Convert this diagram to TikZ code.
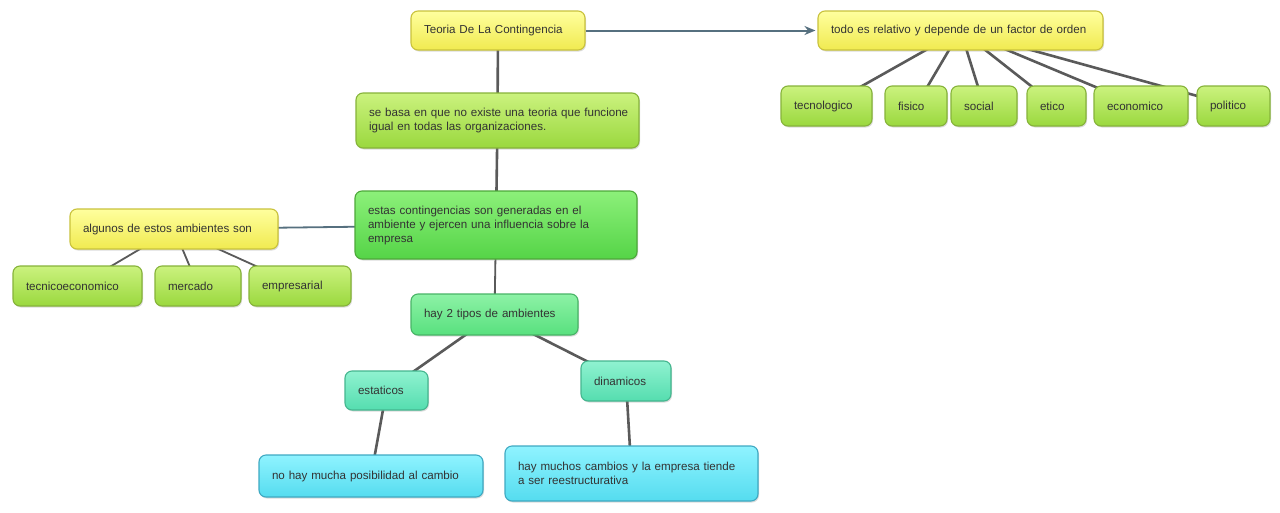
\documentclass[tikz,border=0pt]{standalone}
\usepackage{fontspec}
\setmainfont{Liberation Sans}
\usetikzlibrary{shadows,arrows.meta,backgrounds}
\pgfdeclarelayer{back}
\pgfsetlayers{back,background,main}
\definecolor{txt}{HTML}{333333}
\definecolor{ytop}{HTML}{FFFF9E}\definecolor{ybot}{HTML}{F0EA50}\definecolor{ybd}{HTML}{C9C23C}
\definecolor{ltop}{HTML}{CBF27E}\definecolor{lbot}{HTML}{9AD83E}\definecolor{lbd}{HTML}{86B33A}
\definecolor{gtop}{HTML}{8CF07A}\definecolor{gbot}{HTML}{55D447}\definecolor{gbd}{HTML}{4DA83A}
\definecolor{stop}{HTML}{8DF2A6}\definecolor{sbot}{HTML}{58E07E}\definecolor{sbd}{HTML}{48B466}
\definecolor{mtop}{HTML}{8FF2D0}\definecolor{mbot}{HTML}{55DDAF}\definecolor{mbd}{HTML}{45B68F}
\definecolor{ctop}{HTML}{8FF3FF}\definecolor{cbot}{HTML}{55DCEF}\definecolor{cbd}{HTML}{3FA9C2}
\definecolor{conncol}{HTML}{5A5A5A}
\definecolor{arrcol}{HTML}{56707F}
\tikzset{
  box/.style={draw, rounded corners=7pt, line width=1.1pt, inner xsep=13pt, inner ysep=0pt,
    align=left, text=txt, font=\fontsize{11.6}{14}\selectfont,
    drop shadow={shadow xshift=1pt, shadow yshift=-1.5pt, opacity=0.28}},
  ybox/.style={box, draw=ybd, top color=ytop, bottom color=ybot},
  lbox/.style={box, draw=lbd, top color=ltop, bottom color=lbot},
  gbox/.style={box, draw=gbd, top color=gtop, bottom color=gbot},
  sbox/.style={box, draw=sbd, top color=stop, bottom color=sbot},
  mbox/.style={box, draw=mbd, top color=mtop, bottom color=mbot},
  cbox/.style={box, draw=cbd, top color=ctop, bottom color=cbot},
  conn/.style={draw=conncol, line width=2.6pt},
  thinconn/.style={draw=conncol, line width=1.8pt},
  blueconn/.style={draw=arrcol, line width=1.8pt},
  arrowc/.style={draw=arrcol, line width=2pt, -{Stealth[length=11pt,width=9pt]}, shorten >=2pt}
}
\begin{document}
\begin{tikzpicture}[x=1pt,y=-1pt]
\useasboundingbox (0,0) rectangle (1280,512);
\begin{pgfonlayer}{back}
\fill[white] (0,0) rectangle (1280,512);
\end{pgfonlayer}

\node[ybox, text width=148pt, minimum height=39pt] (teoria) at (498,30.5) {Teoria De La Contingencia};
\node[ybox, text width=259pt, minimum height=39pt] (todo) at (960.5,30.5) {todo es relativo y depende de un factor de orden};
\node[lbox, text width=257pt, minimum height=55pt] (sebasa) at (497.5,120.5) {\mbox{se basa en que no existe una teoria que funcione}\\\mbox{igual en todas las organizaciones.}};
\node[gbox, text width=256pt, minimum height=68pt] (estas) at (496,225) {\mbox{estas contingencias son generadas en el}\\\mbox{ambiente y ejercen una influencia sobre la}\\empresa};
\node[ybox, text width=182pt, minimum height=40pt] (algunos) at (174,229) {algunos de estos ambientes son};
\node[lbox, text width=103pt, minimum height=40pt] (tecnico) at (77.5,286) {tecnicoeconomico};
\node[lbox, text width=60pt, minimum height=40pt] (mercado) at (198,286) {mercado};
\node[lbox, text width=76pt, minimum height=40pt] (empresarial) at (300,286) {empresarial};
\node[sbox, text width=141pt, minimum height=41pt] (hay2) at (494.5,314.5) {hay 2 tipos de ambientes};
\node[mbox, text width=57pt, minimum height=39pt] (estaticos) at (386.5,390.5) {estaticos};
\node[mbox, text width=64pt, minimum height=40pt] (dinamicos) at (626,381) {dinamicos};
\node[cbox, text width=198pt, minimum height=42pt] (nohay) at (371,476) {no hay mucha posibilidad al cambio};
\node[cbox, text width=227pt, minimum height=55pt] (muchos) at (631.5,473.5) {\mbox{hay muchos cambios y la empresa tiende}\\a ser reestructurativa};
\node[lbox, text width=65pt, minimum height=40pt] (tecnologico) at (826.5,106) {tecnologico};
\node[lbox, text width=36pt, minimum height=40pt] (fisico) at (916,106) {fisico};
\node[lbox, text width=40pt, minimum height=40pt] (social) at (984,106) {social};
\node[lbox, text width=33pt, minimum height=40pt] (etico) at (1056.5,106) {etico};
\node[lbox, text width=68pt, minimum height=40pt] (economico) at (1141,106) {economico};
\node[lbox, text width=47pt, minimum height=40pt] (politico) at (1233.5,106) {politico};

\begin{scope}[on background layer]
\draw[conn] (teoria.center) -- (sebasa.center);
\draw[conn] (sebasa.center) -- (estas.center);
\draw[thinconn] (estas.center) -- (hay2.center);
\draw[blueconn] (estas.center) -- (algunos.center);
\draw[thinconn] (algunos.center) -- (tecnico.center);
\draw[thinconn] (algunos.center) -- (mercado.center);
\draw[thinconn] (algunos.center) -- (empresarial.center);
\draw[conn] (hay2.center) -- (estaticos.center);
\draw[conn] (hay2.center) -- (dinamicos.center);
\draw[conn] (estaticos.center) -- (nohay.center);
\draw[conn] (dinamicos.center) -- (muchos.center);
\draw[conn] (todo.center) -- (tecnologico.center);
\draw[conn] (todo.center) -- (fisico.center);
\draw[conn] (todo.center) -- (social.center);
\draw[conn] (todo.center) -- (etico.center);
\draw[conn] (todo.center) -- (economico.center);
\draw[conn] (todo.center) -- (politico.center);
\end{scope}
\draw[arrowc] (teoria) -- (todo);
\end{tikzpicture}
\end{document}
